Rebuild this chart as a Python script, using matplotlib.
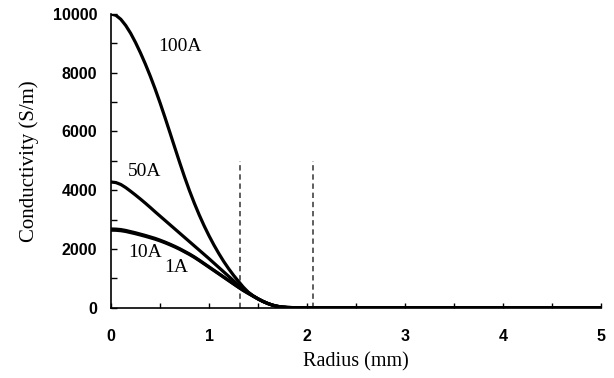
import matplotlib
matplotlib.use("Agg")
import matplotlib.pyplot as plt
from matplotlib.ticker import MultipleLocator

# Radius (mm)
radius = [0.0, 0.05, 0.1, 0.15, 0.2, 0.25, 0.3, 0.35, 0.4, 0.45, 0.5, 0.55, 0.6,
          0.65, 0.7, 0.75, 0.8, 0.85, 0.9, 0.95, 1.0, 1.05, 1.1, 1.15, 1.2, 1.25,
          1.3, 1.35, 1.4, 1.45, 1.5, 1.55, 1.6, 1.65, 1.7, 1.75, 1.8, 1.85, 1.9,
          1.95, 2.0, 5.0]

# Conductivity (S/m)
sigma_100A = [10000, 9955, 9820, 9610, 9345, 9030, 8680, 8300, 7890, 7450, 6980,
              6485, 5975, 5460, 4950, 4455, 3990, 3560, 3160, 2790, 2450, 2135,
              1845, 1575, 1330, 1105, 900, 700, 530, 405, 305, 218, 143, 85, 45,
              22, 8, 3, 0, 0, 0, 0]
sigma_50A = [4280, 4260, 4195, 4090, 3965, 3835, 3700, 3560, 3415, 3265, 3120,
             2975, 2830, 2685, 2540, 2395, 2250, 2105, 1960, 1815, 1670, 1520,
             1370, 1220, 1070, 920, 775, 640, 515, 400, 300, 213, 143, 85, 45,
             22, 8, 3, 0, 0, 0, 0]
sigma_10A = [2680, 2675, 2660, 2630, 2590, 2550, 2505, 2460, 2410, 2360, 2300,
             2235, 2165, 2090, 2010, 1920, 1830, 1730, 1620, 1505, 1390, 1275,
             1160, 1045, 930, 815, 700, 590, 490, 395, 300, 215, 143, 85, 45,
             22, 8, 3, 0, 0, 0, 0]
sigma_1A = [2640, 2636, 2622, 2595, 2557, 2518, 2475, 2430, 2382, 2333, 2275,
            2212, 2143, 2070, 1990, 1902, 1812, 1713, 1605, 1492, 1378, 1264,
            1150, 1036, 922, 808, 695, 586, 488, 393, 298, 213, 142, 85, 45,
            22, 8, 3, 0, 0, 0, 0]

series = [sigma_100A, sigma_50A, sigma_10A, sigma_1A]
labels = ["100A", "50A", "10A", "1A"]
label_pos = [(0.70, 8880), (0.34, 4620), (0.35, 1890), (0.67, 1360)]

dashed_x = [1.315, 2.06]
dashed_top = 5000

serif = ["Liberation Serif", "DejaVu Serif"]
sans = ["Liberation Sans", "DejaVu Sans"]

fig = plt.figure(figsize=(6.14, 3.78), dpi=100)
ax = fig.add_axes([0.1808, 0.186, 0.798, 0.777])

for s in series:
    ax.plot(radius, s, color="black", lw=2.3, solid_capstyle="round",
            solid_joinstyle="round", zorder=3)

for xd in dashed_x:
    ax.plot([xd, xd], [0, dashed_top], color="#333333", lw=1.1,
            linestyle=(0, (3.5, 2.5)), zorder=2)

for lab, (lx, ly) in zip(labels, label_pos):
    ax.text(lx, ly, lab, family=serif, fontsize=14, ha="center", va="center")

ax.set_xlim(0, 5)
ax.set_ylim(0, 10000)
ax.xaxis.set_major_locator(MultipleLocator(1))
ax.xaxis.set_minor_locator(MultipleLocator(0.5))
ax.yaxis.set_major_locator(MultipleLocator(2000))
ax.yaxis.set_minor_locator(MultipleLocator(1000))

for side in ["top", "right"]:
    ax.spines[side].set_visible(False)
for side in ["left", "bottom"]:
    ax.spines[side].set_linewidth(1.2)

ax.tick_params(axis="both", which="both", direction="in", width=1.0)
ax.tick_params(axis="y", which="both", length=4, pad=10)
ax.tick_params(axis="x", which="both", length=3.5, pad=15)

for t in ax.get_xticklabels() + ax.get_yticklabels():
    t.set_family(sans)
    t.set_fontsize(11.5)
    t.set_fontweight("bold")

ax.set_xlabel("Radius (mm)", family=serif, fontsize=14.5)
ax.set_ylabel("Conductivity (S/m)", family=serif, fontsize=15)
ax.xaxis.set_label_coords(0.5, -0.15)
ax.yaxis.set_label_coords(-0.147, 0.5)

fig.savefig("out.png", dpi=100)
